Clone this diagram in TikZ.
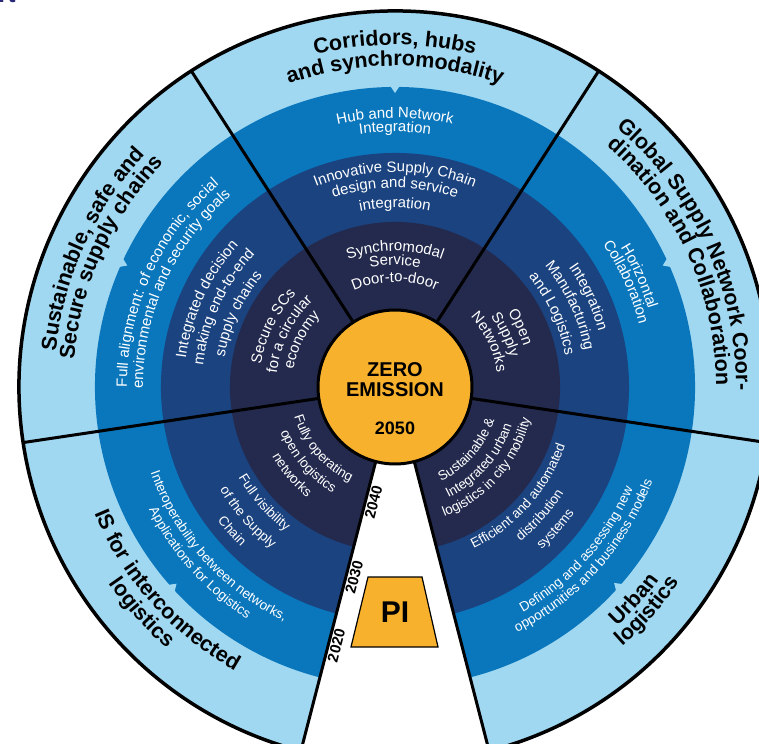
\documentclass[tikz,border=0pt]{standalone}
\usepackage{fontspec}
\setmainfont{Liberation Sans}
\usepackage{tikz}
\usetikzlibrary{calc}
\usetikzlibrary{decorations.text}

\definecolor{skyring}{HTML}{A0D8F1}
\definecolor{midring}{HTML}{0A76BC}
\definecolor{darkring}{HTML}{1A4380}
\definecolor{navyring}{HTML}{232A4E}
\definecolor{zeroorange}{HTML}{F8B12C}
\definecolor{titlenavy}{HTML}{2B2A78}

\newcommand{\outerfont}{\fontsize{21.5}{22}\selectfont\bfseries}
\newcommand{\upperfont}{\fontsize{15}{16}\selectfont\color{white}}
\newcommand{\lowerfont}{\fontsize{13.5}{14}\selectfont\color{white}}

% text on a ring, letters standing outwards (read clockwise)
\newcommand{\cwlabel}[4]{%
  \path[decorate,decoration={text along path,text align=center,text={|#3|#4}}]
    ({#1+80}:#2) arc[start angle=#1+80,end angle=#1-80,radius=#2];}
% text on a ring, letters standing inwards (read counter-clockwise)
\newcommand{\ccwlabel}[4]{%
  \path[decorate,decoration={text along path,text align=center,text={|#3|#4}}]
    ({#1-80}:#2) arc[start angle=#1-80,end angle=#1+80,radius=#2];}

\begin{document}
\begin{tikzpicture}[x=1pt,y=1pt,semithick]
  \tikzstyle{divider}=[line width=3pt,draw=black]
  \tikzstyle{centre}=[inner sep=0pt,font=\bfseries\fontsize{20}{20}\selectfont]
  \tikzstyle{yearlabel}=[inner sep=0pt,rotate=75.5,font=\bfseries\fontsize{15}{15}\selectfont]

  \useasboundingbox (-395,-356) rectangle (364,387);

  \node[anchor=base west,inner sep=0pt,text=titlenavy,font=\bfseries\fontsize{24}{24}\selectfont] (title) at (-397,384) {rt};

  % rings
  \foreach \r/\c in {376/skyring,300/midring,234/darkring,165/navyring}
    \fill[\c] (0,0) -- (-75.5:\r) arc[start angle=-75.5,end angle=255.5,radius=\r] -- cycle;
  \foreach \a in {24.4,90,155.6,222,318.2}
    \fill[skyring] ({\a-0.9}:301) -- (\a:294) -- ({\a+0.9}:301) -- cycle;

  % corridors
  \cwlabel{90}{342}{\outerfont}{Corridors, hubs}
  \cwlabel{90}{321}{\outerfont}{and synchromodality}
  \cwlabel{90}{269}{\upperfont}{Hub and Network}
  \cwlabel{90}{255}{\upperfont}{Integration}
  \cwlabel{90}{215}{\upperfont}{Innovative Supply Chain}
  \cwlabel{90}{199}{\upperfont}{design and service}
  \cwlabel{90}{179}{\upperfont}{integration}
  \cwlabel{90}{136}{\upperfont}{Synchromodal}
  \cwlabel{90}{122}{\upperfont}{Service}
  \cwlabel{90}{105}{\upperfont}{Door-to-door}

  % sustainable
  \cwlabel{155.5}{341}{\outerfont}{Sustainable, safe and}
  \cwlabel{155.5}{322}{\outerfont}{Secure supply chains}
  \cwlabel{155.5}{268}{\upperfont}{Full alignment: of economic, social}
  \cwlabel{155.5}{252}{\upperfont}{environmental and security goals}
  \cwlabel{155}{211}{\upperfont}{Integrated decision}
  \cwlabel{155}{193}{\upperfont}{making end-to-end}
  \cwlabel{155}{173}{\upperfont}{supply chains}
  \cwlabel{153.5}{136}{\upperfont}{Secure SCs}
  \cwlabel{153.5}{119}{\upperfont}{for a circular}
  \cwlabel{153.5}{103}{\upperfont}{economy}

  % global
  \cwlabel{24.5}{341}{\outerfont}{Global Supply Network Coor-}
  \cwlabel{24.5}{321}{\outerfont}{dination and Collaboration}
  \cwlabel{24.4}{265}{\upperfont}{Horizontal}
  \cwlabel{24.4}{252}{\upperfont}{Collaboration}
  \cwlabel{25}{211}{\upperfont}{Integration}
  \cwlabel{25}{193}{\upperfont}{Manufacturing}
  \cwlabel{25}{173}{\upperfont}{and Logistics}
  \cwlabel{25.5}{135}{\upperfont}{Open}
  \cwlabel{25.5}{119}{\upperfont}{Supply}
  \cwlabel{25.5}{103}{\upperfont}{Networks}

  % IS
  \ccwlabel{221.7}{326}{\outerfont}{IS for interconnected}
  \ccwlabel{221.7}{347}{\outerfont}{logistics}
  \ccwlabel{222}{259}{\lowerfont}{Interoperability between networks,}
  \ccwlabel{222}{275}{\lowerfont}{Applications for Logistics}
  \ccwlabel{221.5}{181}{\lowerfont}{Full visibility}
  \ccwlabel{221.5}{203}{\lowerfont}{of the Supply}
  \ccwlabel{221.5}{222}{\lowerfont}{Chain}
  \ccwlabel{220.5}{105}{\lowerfont}{Fully operating}
  \ccwlabel{220.5}{123}{\lowerfont}{open logistics}
  \ccwlabel{220.5}{141}{\lowerfont}{networks}

  % urban
  \ccwlabel{318.4}{327}{\outerfont}{Urban}
  \ccwlabel{318.4}{345}{\outerfont}{logistics}
  \ccwlabel{318.2}{259}{\lowerfont}{Defining and assessing new}
  \ccwlabel{318.2}{274}{\lowerfont}{opportunities and business models}
  \ccwlabel{318.5}{180}{\lowerfont}{Efficient and automated}
  \ccwlabel{318.5}{199}{\lowerfont}{distribution}
  \ccwlabel{318.5}{219}{\lowerfont}{systems}
  \ccwlabel{318.8}{105}{\lowerfont}{Sustainable {\&}}
  \ccwlabel{318.8}{123}{\lowerfont}{Integrated urban}
  \ccwlabel{318.8}{139}{\lowerfont}{logistics in city mobility}

  % borders
  \foreach \a in {57.2,122.8,188.5,351.5,255.5,284.5}
    \draw[divider] (\a:77) -- (\a:376);
  \draw[line width=3.5pt] (-75.5:376) arc[start angle=-75.5,end angle=255.5,radius=376];
  \draw[line width=3pt,fill=zeroorange] (0,0) circle (77);

  \node[centre] (zero) at (0,17) {ZERO};
  \node[centre] (emission) at (0,-2.5) {EMISSION};
  \node[centre,font=\bfseries\fontsize{18}{18}\selectfont] (target) at (0,-41.5) {2050};

  % PI and years
  \draw[line width=1.2pt,fill=zeroorange] (-27,-190) -- (27,-190) -- (43,-260) -- (-44,-260) -- cycle;
  \node[inner sep=0pt,font=\bfseries\fontsize{30}{30}\selectfont] (pi) at (0,-225) {PI};
  \node[yearlabel] (y2040) at ($(255.5:117)+(-14.5:8)$) {2040};
  \node[yearlabel] (y2030) at ($(255.5:194)+(-14.5:8)$) {2030};
  \node[yearlabel] (y2020) at ($(255.5:265)+(-14.5:8)$) {2020};
\end{tikzpicture}
\end{document}
